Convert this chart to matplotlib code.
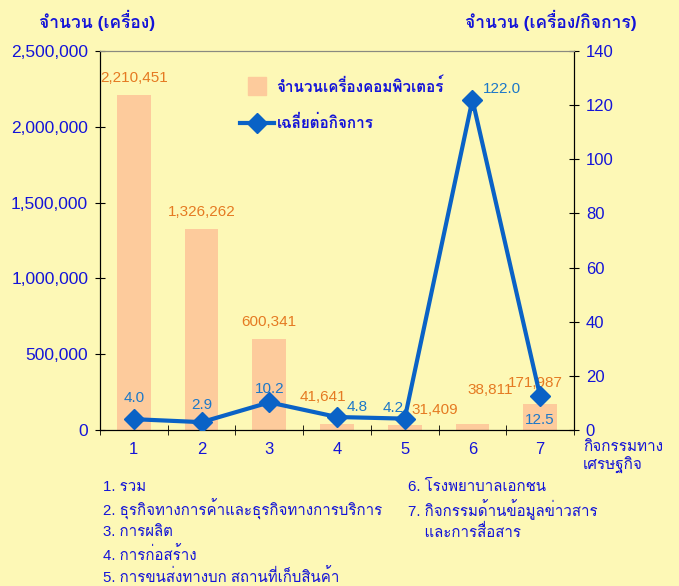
import matplotlib
matplotlib.use('Agg')
import matplotlib.pyplot as plt
from matplotlib import font_manager
from matplotlib.lines import Line2D
from matplotlib.ticker import FuncFormatter, FixedLocator


def thai_fonts():
    names = []
    try:
        from fontTools.ttLib import TTFont
    except Exception:
        return names
    for f in font_manager.fontManager.ttflist:
        if f.name in names:
            continue
        try:
            tt = TTFont(f.fname, fontNumber=0, lazy=True)
            cmap = tt.getBestCmap()
            if cmap and 0x0E01 in cmap and 0x0E33 in cmap:
                names.append(f.name)
        except Exception:
            pass
    return names


thai = thai_fonts()
FAMILY = ['Liberation Sans'] + thai + ['DejaVu Sans']
plt.rcParams['font.family'] = FAMILY

categories = ['1', '2', '3', '4', '5', '6', '7']
computers = [2210451, 1326262, 600341, 41641, 31409, 38811, 171987]
per_business = [4.0, 2.9, 10.2, 4.8, 4.2, 122.0, 12.5]
bar_label_texts = ['2,210,451', '1,326,262', '600,341', '41,641', '31,409', '38,811', '171,987']
line_label_texts = ['4.0', '2.9', '10.2', '4.8', '4.2', '122.0', '12.5']
legend_bar = 'จำนวนเครื่องคอมพิวเตอร์'
legend_line = 'เฉลี่ยต่อกิจการ'
left_title = 'จำนวน (เครื่อง)'
right_title = 'จำนวน (เครื่อง/กิจการ)'
x_title = 'กิจกรรมทาง\nเศรษฐกิจ'
notes_left = ['1. รวม', '2. ธุรกิจทางการค้าและธุรกิจทางการบริการ', '3. การผลิต',
              '4. การก่อสร้าง', '5. การขนส่งทางบก สถานที่เก็บสินค้า']
notes_right = ['6. โรงพยาบาลเอกชน', '7. กิจกรรมด้านข้อมูลข่าวสาร', '    และการสื่อสาร']

BG = '#FDF8B6'
BLUE = '#1414D8'
ORANGE = '#E57A22'
LBLUE = '#1C78C8'
LINE = '#0A62C6'
BAR = '#FDCB9C'

fig = plt.figure(figsize=(6.79, 5.86), dpi=100, facecolor=BG)
ax = fig.add_axes([100/679, 1-430/586, 474/679, 379/586])
ax.set_facecolor(BG)
ax2 = ax.twinx()

x = list(range(1, len(categories) + 1))
ax.bar(x, computers, width=0.5, color=BAR, zorder=1)
ax.set_xlim(0.5, 7.5)
ax.set_ylim(0, 2500000)
ax.set_yticks([0, 500000, 1000000, 1500000, 2000000, 2500000])
ax.yaxis.set_major_formatter(FuncFormatter(lambda v, p: f'{int(v):,}'))
ax.set_xticks(x)
ax.set_xticklabels(categories)
ax.xaxis.set_minor_locator(FixedLocator([i + 0.5 for i in range(0, 8)]))
ax.tick_params(axis='x', which='major', length=0, pad=9, labelsize=12, labelcolor=BLUE)
ax.tick_params(axis='x', which='minor', length=7, direction='inout', color='black')
ax.tick_params(axis='y', length=7, direction='inout', labelsize=12.5, labelcolor=BLUE, pad=5)

ax2.plot(x, per_business, color=LINE, lw=3, marker='D', ms=10, zorder=3)
ax2.set_ylim(0, 140)
ax2.set_yticks(range(0, 141, 20))
ax2.tick_params(axis='y', length=7, direction='inout', labelsize=12, labelcolor=BLUE, pad=5)

for s in [ax, ax2]:
    s.spines['top'].set_color('#8A8A80')
    s.spines['left'].set_color('black')
    s.spines['right'].set_color('black')
    s.spines['bottom'].set_color('black')

bar_offsets = [(0, 17), (0, 17), (0, 17), (-14, 27), (30, 15), (18, 34), (-5, 21)]
for xi, v, t, off in zip(x, computers, bar_label_texts, bar_offsets):
    ax.annotate(t, (xi, v), xytext=off, textcoords='offset pixels', ha='center', va='center',
                color=ORANGE, fontsize=11, zorder=5)

line_offsets = [(0, 21), (0, 17), (0, 13), (20, 10), (-12, 11), (30, 11), (0, -24)]
for xi, v, t, off in zip(x, per_business, line_label_texts, line_offsets):
    ax2.annotate(t, (xi, v), xytext=off, textcoords='offset pixels', ha='center', va='center',
                 color=LBLUE, fontsize=11, zorder=5)

handles = [Line2D([0], [0], color=BAR, lw=0, marker='s', ms=13),
           Line2D([0], [0], color=LINE, lw=3, marker='D', ms=10)]
leg = ax2.legend(handles, [legend_bar, legend_line], loc='upper left',
                 bbox_to_anchor=(240/679, 1-77/586), bbox_transform=fig.transFigure,
                 frameon=False, borderpad=0, borderaxespad=0,
                 prop={'size': 11, 'weight': 'bold'},
                 labelspacing=1.35, handlelength=2.2, handletextpad=0.2, labelcolor=BLUE)

fig.text(39/679, 1-20/586, left_title, color=BLUE, fontsize=12.5, ha='left', va='center', fontweight='bold')
fig.text(637/679, 1-20/586, right_title, color=BLUE, fontsize=12.5, ha='right', va='center', fontweight='bold')
fig.text(583/679, 1-457/586, x_title, color=BLUE, fontsize=11, ha='left', va='center', linespacing=1.25)

for i, t in enumerate(notes_left):
    fig.text(103/679, 1-(487 + 22.5*i)/586, t, color=BLUE, fontsize=10.8, ha='left', va='center')
for i, t in enumerate(notes_right):
    fig.text(408/679, 1-(487 + 22.5*i)/586, t, color=BLUE, fontsize=10.8, ha='left', va='center')

fig.savefig('out.png', dpi=100, facecolor=BG)
